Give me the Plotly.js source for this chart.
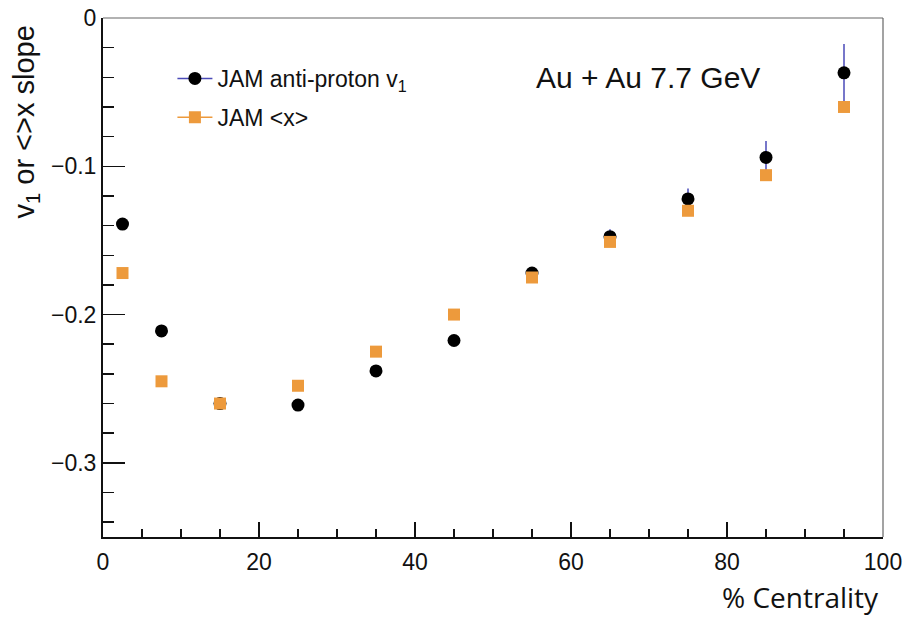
<!DOCTYPE html>
<html>
<head>
<meta charset="utf-8">
<script src="https://cdn.plot.ly/plotly-3.0.1.min.js"></script>
<style>html,body{margin:0;padding:0;background:#fff;}#chart{width:908px;height:618px;}</style>
</head>
<body>
<div id="chart"></div>
<script>
// Centrality bin centres (%)
const centrality = [2.5, 7.5, 15, 25, 35, 45, 55, 65, 75, 85, 95];
// JAM anti-proton v1 slope
const v1Values = [-0.139, -0.211, -0.260, -0.261, -0.238, -0.2175, -0.172, -0.1475, -0.122, -0.094, -0.037];
const v1Errors = [0.003, 0.004, 0.003, 0.003, 0.003, 0.003, 0.003, 0.005, 0.007, 0.011, 0.0195];
// JAM <x> slope
const xSlopeValues = [-0.172, -0.245, -0.260, -0.248, -0.225, -0.200, -0.175, -0.151, -0.130, -0.106, -0.060];

const blackColor = '#000000';
const barColor = '#4a4ab8';
const orangeColor = '#ED9A3C';

const traces = [
  {
    x: centrality, y: v1Values, type: 'scatter', mode: 'markers',
    showlegend: false,
    marker: {symbol: 'circle', size: 13, color: blackColor},
    error_y: {type: 'data', array: v1Errors, visible: true, color: barColor, thickness: 1.5, width: 0}
  },
  {
    x: centrality, y: xSlopeValues, type: 'scatter', mode: 'markers',
    showlegend: false,
    marker: {symbol: 'square', size: 12, color: orangeColor}
  },
  // legend entries (marker with line through, as in the original legend)
  {
    x: [null], y: [null], type: 'scatter', mode: 'lines+markers',
    name: 'JAM anti-proton v<sub>1</sub>', legendgroup: 'a',
    marker: {symbol: 'circle', size: 13, color: blackColor},
    line: {color: barColor, width: 1.5}
  },
  {
    x: [null], y: [null], type: 'scatter', mode: 'lines+markers',
    name: 'JAM &lt;x&gt;', legendgroup: 'b',
    marker: {symbol: 'square', size: 12, color: orangeColor},
    line: {color: orangeColor, width: 1.5}
  }
];

const tickFont = {family: 'Liberation Sans, Arial, sans-serif', size: 23, color: '#111'};

const layout = {
  width: 908, height: 618,
  margin: {l: 103, r: 25, t: 18, b: 81},
  paper_bgcolor: '#ffffff', plot_bgcolor: '#ffffff',
  showlegend: true,
  legend: {
    x: 0.089, y: 0.925, xanchor: 'left', yanchor: 'top',
    font: {family: 'Liberation Sans, Arial, sans-serif', size: 23, color: '#111'},
    bgcolor: 'rgba(0,0,0,0)', tracegroupgap: 6, traceorder: 'grouped',
    itemwidth: 35
  },
  xaxis: {
    range: [0, 100], dtick: 20, tick0: 0,
    showgrid: false, zeroline: false,
    showline: true, linecolor: '#111', linewidth: 2,
    ticks: 'inside', ticklen: 15, tickwidth: 1.5, tickcolor: '#111',
    minor: {dtick: 5, ticks: 'inside', ticklen: 8, tickwidth: 1.5, tickcolor: '#111', showgrid: false},
    tickfont: tickFont, ticklabelstandoff: 3
  },
  yaxis: {
    range: [-0.35, 0], dtick: 0.1, tick0: 0,
    showgrid: false, zeroline: false,
    showline: true, linecolor: '#111', linewidth: 2,
    ticks: 'inside', ticklen: 22, tickwidth: 1.5, tickcolor: '#111',
    minor: {dtick: 0.02, ticks: 'inside', ticklen: 11, tickwidth: 1.5, tickcolor: '#111', showgrid: false},
    tickfont: tickFont
  },
  shapes: [
    {type: 'line', xref: 'paper', yref: 'paper', x0: 0, x1: 1, y0: 1, y1: 1, line: {color: '#666', width: 1.2}},
    {type: 'line', xref: 'paper', yref: 'paper', x0: 1, x1: 1, y0: 0, y1: 1, line: {color: '#666', width: 1.2}}
  ],
  annotations: [
    {text: 'Au + Au 7.7 GeV', xref: 'paper', yref: 'paper', x: 0.699, y: 0.885, xanchor: 'center', yanchor: 'middle', showarrow: false,
     font: {family: 'Liberation Sans, Arial, sans-serif', size: 30, color: '#111'}},
    {text: 'v<sub>1</sub> or &lt;&gt;x slope', xref: 'paper', yref: 'paper', x: -0.099, y: 0.80, xanchor: 'center', yanchor: 'middle', textangle: -90, showarrow: false,
     font: {family: 'Liberation Sans, Arial, sans-serif', size: 29, color: '#111'}},
    {text: '% Centrality', xref: 'paper', yref: 'paper', x: 0.997, y: -0.115, xanchor: 'right', yanchor: 'middle', showarrow: false,
     font: {family: 'Open Sans, sans-serif', size: 28, color: '#111'}}
  ]
};

Plotly.newPlot('chart', traces, layout, {displayModeBar: false, staticPlot: true});
</script>
</body>
</html>
